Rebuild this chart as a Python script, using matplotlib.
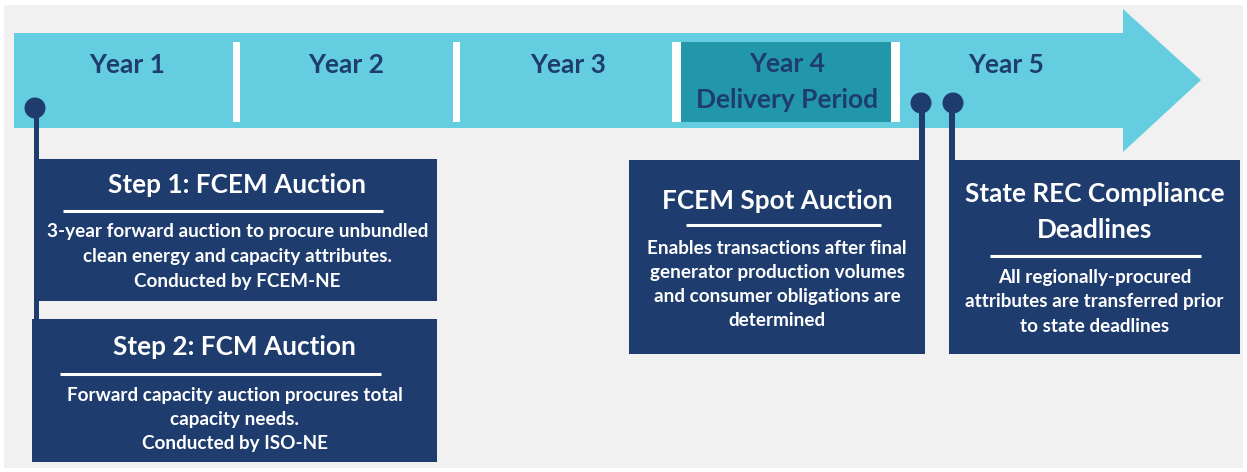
import matplotlib
matplotlib.use("Agg")
import matplotlib.pyplot as plt
from matplotlib.patches import Rectangle, Polygon, Circle

# ---- content ----
year_labels = ["Year 1", "Year 2", "Year 3", "Year 4\nDelivery Period", "Year 5"]
box_titles = ["Step 1: FCEM Auction", "Step 2: FCM Auction", "FCEM Spot Auction",
              "State REC Compliance\nDeadlines"]
box_bodies = [
    ["3-year forward auction to procure unbundled",
     "clean energy and capacity attributes.",
     "Conducted by FCEM-NE"],
    ["Forward capacity auction procures total",
     "capacity needs.",
     "Conducted by ISO-NE"],
    ["Enables transactions after final",
     "generator production volumes",
     "and consumer obligations are",
     "determined"],
    ["All regionally-procured",
     "attributes are transferred prior",
     "to state deadlines"],
]

# ---- style ----
BG = "#f1f1f1"
ARROW = "#64cee0"
TEAL = "#2197a9"
NAVY = "#1e3c6e"
WHITE = "#ffffff"
FONT = ["Lato", "DejaVu Sans"]

W, H = 1247, 472
fig = plt.figure(figsize=(W / 100, H / 100), dpi=100, facecolor=WHITE)
ax = fig.add_axes([0, 0, 1, 1])
ax.set_xlim(0, W)
ax.set_ylim(H, 0)
ax.axis("off")


def multiline(x, yc, label, spacing, **kw):
    lines = label.split("\n")
    n = len(lines)
    for i, ln in enumerate(lines):
        ax.text(x, yc + (i - (n - 1) / 2) * spacing, ln, ha="center", va="center", **kw)


ax.add_patch(Rectangle((4, 5), W - 8, H - 9, facecolor=BG, edgecolor="none"))

# arrow
ax.add_patch(Polygon([(14, 33), (1123, 33), (1123, 9), (1201, 80), (1123, 152),
                      (1123, 128), (14, 128)], closed=True, facecolor=ARROW,
                     edgecolor="none"))
# delivery period box and dividers
ax.add_patch(Rectangle((681, 42), 210, 80, facecolor=TEAL, edgecolor="none"))
for x0, w in [(233, 7), (453, 7), (672, 9), (891, 9)]:
    ax.add_patch(Rectangle((x0, 42), w, 80, facecolor=WHITE, edgecolor="none"))

# year labels
year_pos = [(127, 65), (346, 65), (568, 65), (787, 82), (1006, 65)]
for lab, (x, y) in zip(year_labels, year_pos):
    multiline(x, y, lab, 35, color=NAVY, fontsize=19, fontweight="bold", family=FONT)

# stems and dots
ax.add_patch(Rectangle((34, 108), 5, 212, facecolor=NAVY, edgecolor="none"))
ax.add_patch(Rectangle((919, 103), 6, 58, facecolor=NAVY, edgecolor="none"))
ax.add_patch(Rectangle((949, 103), 6, 58, facecolor=NAVY, edgecolor="none"))
for cx, cy in [(35, 108), (921, 103), (953, 103)]:
    ax.add_patch(Circle((cx, cy), 10.5, facecolor=NAVY, edgecolor="none"))

# boxes: (x0, y0, x1, y1), title y, underline (x0, x1, y), body first y, body spacing
boxes = [
    ((38, 159, 437, 301), 185, (63, 383, 211), 232, 24.5),
    ((32, 319, 437, 462), 347, (60, 381, 374), 395, 24),
    ((629, 160, 925, 354), 201, (686, 881, 225), 248, 24.3),
    ((949, 160, 1240, 354), 212, (990, 1201, 256), 278, 24),
]
for (b, ty, ul, by, sp), title, body in zip(boxes, box_titles, box_bodies):
    x0, y0, x1, y1 = b
    ax.add_patch(Rectangle((x0, y0), x1 - x0, y1 - y0, facecolor=NAVY, edgecolor="none"))
    cx = (x0 + x1) / 2
    multiline(cx, ty, title, 35, color=WHITE, fontsize=18.8, fontweight="bold", family=FONT)
    ax.plot([ul[0], ul[1]], [ul[2], ul[2]], color=WHITE, lw=2.2, solid_capstyle="butt")
    for i, line in enumerate(body):
        ax.text(cx, by + i * sp, line, ha="center", va="center", color=WHITE,
                fontsize=13.6, fontweight="bold", family=FONT)

fig.savefig("out.png", dpi=100, facecolor=WHITE)
